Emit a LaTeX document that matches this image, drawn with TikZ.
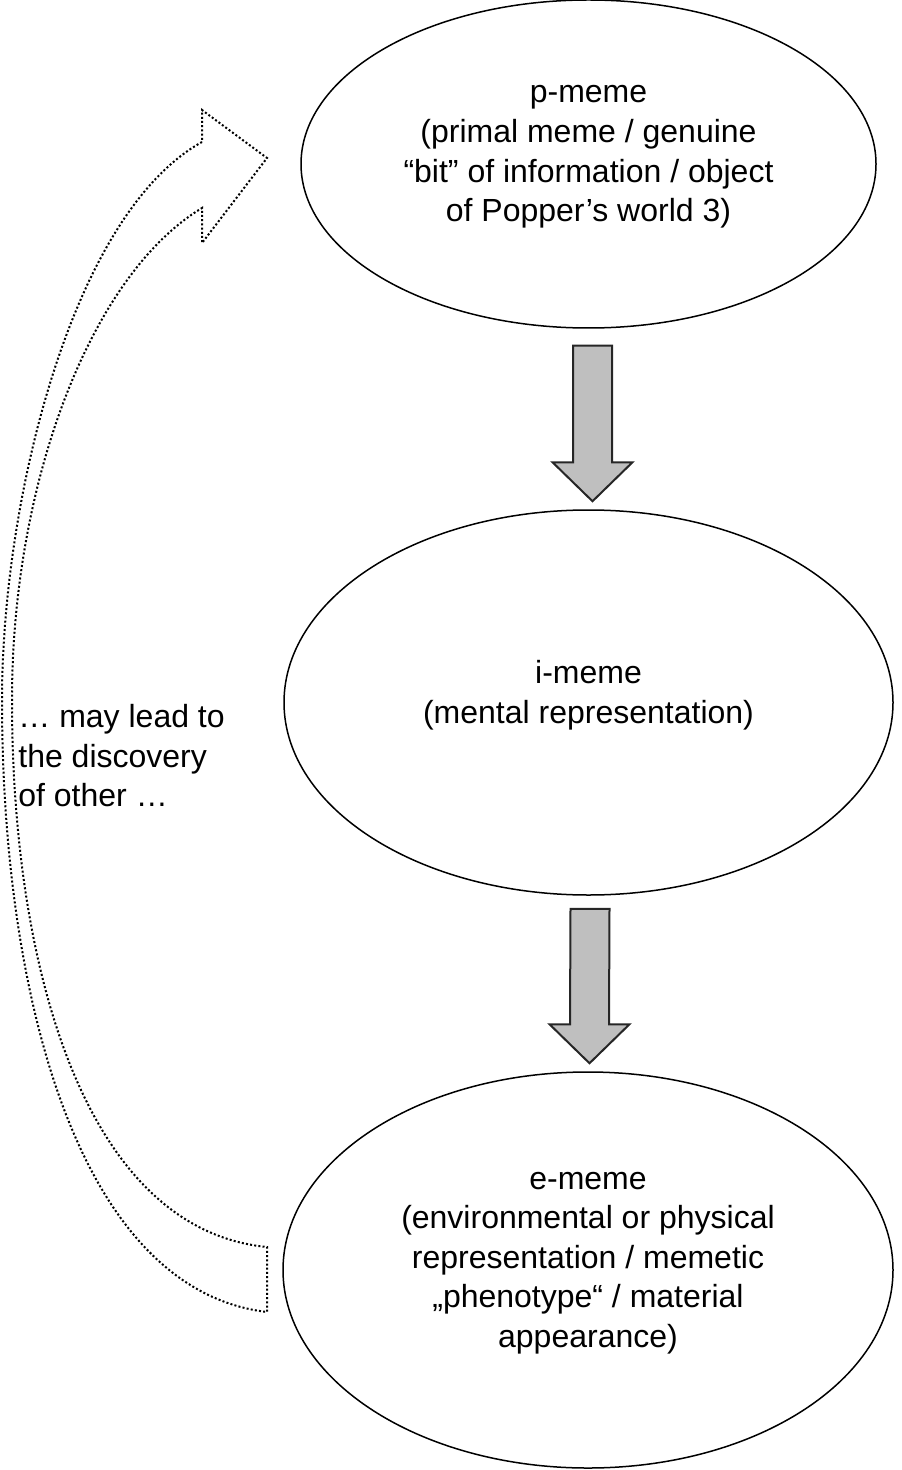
\documentclass[tikz,border=0pt]{standalone}
\usepackage{fontspec}
\setmainfont{Liberation Sans}
\usetikzlibrary{shapes.geometric,calc}
\newcommand\lowstrut{\rule[-10.4pt]{0pt}{0pt}}
\newcommand\fatdown[2]{%
  \draw[fatarrow] ($(#1)+(-19.5,0)$) -- ($(#2)+(-19.5,-39)$) -- ($(#2)+(-40,-39)$) -- (#2)
    -- ($(#2)+(40,-39)$) -- ($(#2)+(19.5,-39)$) -- ($(#1)+(19.5,0)$) -- cycle;}
\begin{document}
\begin{tikzpicture}[x=0.5pt,y=-0.5pt,
  txt/.style={font=\fontsize{16}{19.8}\selectfont},
  meme/.style={txt,draw=black,line width=0.75pt,ellipse,inner sep=0pt,align=center},
  fatarrow/.style={draw=black!85,line width=1pt,fill=gray!50,line join=miter},
  loopshape/.style={draw=black,line width=1pt,dash pattern=on 1pt off 1.1pt,line join=miter}
]
\useasboundingbox (0,0) rectangle (901,1470);

\node[meme,minimum width=287.5pt,minimum height=164pt] (p) at (588.5,164)
  {p-meme\\(primal meme / genuine\\“bit” of information / object\\of Popper’s world 3)\lowstrut};
\node[meme,minimum width=304.5pt,minimum height=192.5pt] (i) at (588.5,702.5)
  {i-meme\\(mental representation)\lowstrut};
\node[meme,minimum width=305pt,minimum height=198pt] (e) at (588,1270)
  {e-meme\\(environmental or physical\\representation / memetic\\„phenotype“ / material\\appearance)\lowstrut};

\coordinate (a1top) at ($(p.south)+(4,17)$);
\coordinate (a1tip) at ($(i.north)+(4,-8)$);
\coordinate (a2top) at ($(i.south)+(1.5,13)$);
\coordinate (a2tip) at ($(e.north)+(1.5,-8)$);
\fatdown{a1top}{a1tip}
\fatdown{a2top}{a2tip}

\node[txt,anchor=north west,align=left,inner sep=0pt] (note) at (18,704)
  {… may lead to\\the discovery\\of other …};

\draw[loopshape] (202,142) .. controls (72,214) and (2,500) .. (2,700)
  .. controls (2,1000) and (80,1290) .. (267,1312) -- (267,1247)
  .. controls (90,1230) and (12,980) .. (12,700)
  .. controls (12,480) and (92,274) .. (202,208)
  -- (202,243) -- (267,158) -- (202,110) -- cycle;
\end{tikzpicture}
\end{document}
